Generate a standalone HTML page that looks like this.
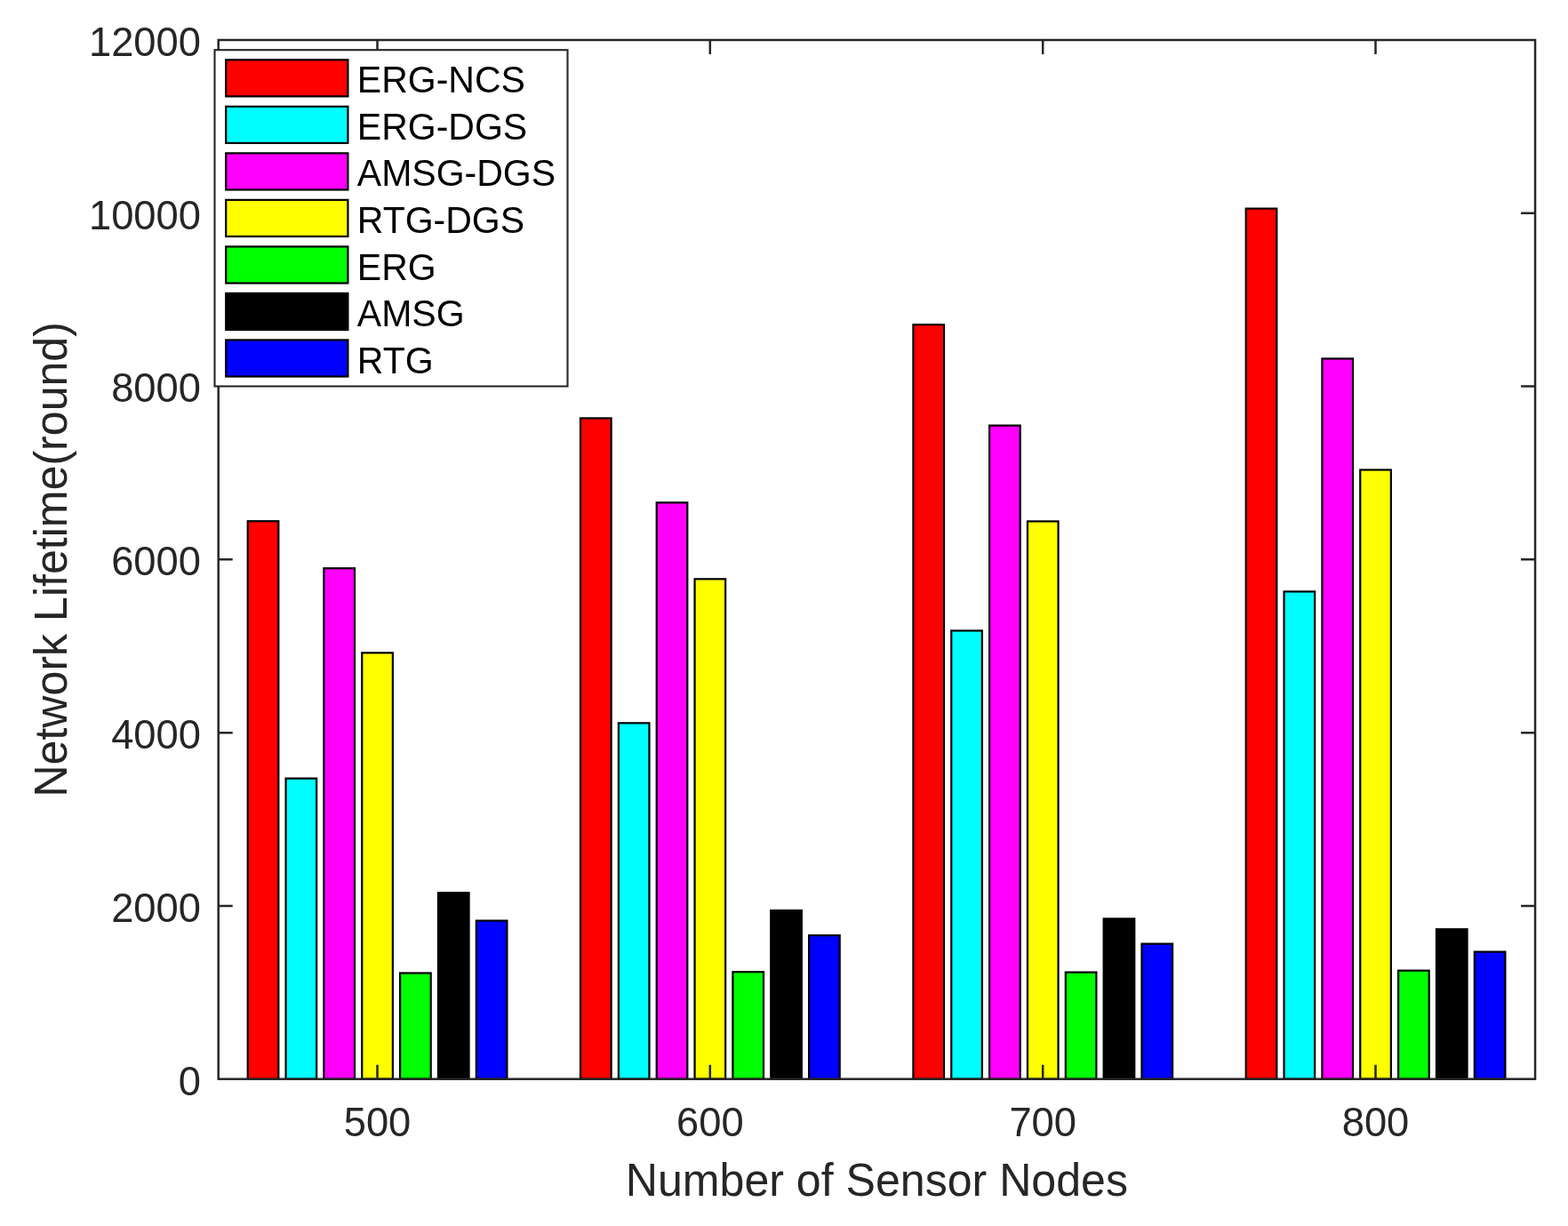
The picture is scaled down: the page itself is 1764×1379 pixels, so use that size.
<!DOCTYPE html>
<html lang="en">
<head>
<meta charset="utf-8">
<title>Network Lifetime vs Number of Sensor Nodes</title>
<style>
html,body{margin:0;padding:0;background:#fff;}
body{width:1764px;height:1379px;overflow:hidden;}
svg{display:block;}
text{font-family:"Liberation Sans",Arial,Helvetica,sans-serif;}
.tk{font-size:45.3px;fill:#262626;}
.lb{font-size:50.1px;fill:#262626;}
.lg{font-size:41px;fill:#000;}
.ax{stroke:#262626;stroke-width:2.5;fill:none;}
.bar{stroke:#000;stroke-width:2.2;}
</style>
</head>
<body>
<svg width="1764" height="1379" viewBox="0 0 1764 1379">
<rect x="0" y="0" width="1764" height="1379" fill="#ffffff"/>
<g class="bar">
<rect x="278.7" y="586.2" width="34.6" height="627.5" fill="#ff0000"/>
<rect x="321.55" y="875.6" width="34.6" height="338.1" fill="#00ffff"/>
<rect x="364.4" y="639.2" width="34.6" height="574.5" fill="#ff00ff"/>
<rect x="407.25" y="734.3" width="34.6" height="479.4" fill="#ffff00"/>
<rect x="450.1" y="1094.5" width="34.6" height="119.2" fill="#00ff00"/>
<rect x="492.95" y="1004.2" width="34.6" height="209.5" fill="#000000"/>
<rect x="535.8" y="1035.6" width="34.6" height="178.1" fill="#0000ff"/>
<rect x="653" y="470.4" width="34.6" height="743.3" fill="#ff0000"/>
<rect x="695.85" y="813.3" width="34.6" height="400.4" fill="#00ffff"/>
<rect x="738.7" y="565.3" width="34.6" height="648.4" fill="#ff00ff"/>
<rect x="781.55" y="651.3" width="34.6" height="562.4" fill="#ffff00"/>
<rect x="824.4" y="1093.2" width="34.6" height="120.5" fill="#00ff00"/>
<rect x="867.25" y="1024.1" width="34.6" height="189.6" fill="#000000"/>
<rect x="910.1" y="1052.1" width="34.6" height="161.6" fill="#0000ff"/>
<rect x="1027.4" y="365.2" width="34.6" height="848.5" fill="#ff0000"/>
<rect x="1070.25" y="709.4" width="34.6" height="504.3" fill="#00ffff"/>
<rect x="1113.1" y="478.6" width="34.6" height="735.1" fill="#ff00ff"/>
<rect x="1155.95" y="586.4" width="34.6" height="627.3" fill="#ffff00"/>
<rect x="1198.8" y="1093.6" width="34.6" height="120.1" fill="#00ff00"/>
<rect x="1241.65" y="1033.4" width="34.6" height="180.3" fill="#000000"/>
<rect x="1284.5" y="1061.6" width="34.6" height="152.1" fill="#0000ff"/>
<rect x="1401.7" y="234.6" width="34.6" height="979.1" fill="#ff0000"/>
<rect x="1444.55" y="665.4" width="34.6" height="548.3" fill="#00ffff"/>
<rect x="1487.4" y="403.4" width="34.6" height="810.3" fill="#ff00ff"/>
<rect x="1530.25" y="528.5" width="34.6" height="685.2" fill="#ffff00"/>
<rect x="1573.1" y="1091.7" width="34.6" height="122" fill="#00ff00"/>
<rect x="1615.95" y="1045.2" width="34.6" height="168.5" fill="#000000"/>
<rect x="1658.8" y="1070.6" width="34.6" height="143.1" fill="#0000ff"/>
</g>
<g class="ax">
<rect x="245.7" y="45" width="1481.35" height="1168.7"/>
<path d="M424.5 1213.7v-16M424.5 45v16M798.8 1213.7v-16M798.8 45v16M1173.2 1213.7v-16M1173.2 45v16M1547.5 1213.7v-16M1547.5 45v16M1727.05 239.78h-16M1727.05 434.57h-16M245.7 629.35h16M1727.05 629.35h-16M245.7 824.13h16M1727.05 824.13h-16M245.7 1018.92h16M1727.05 1018.92h-16"/>
</g>
<g class="tk">
<text transform="translate(225.9 62.9) scale(1 1.01)" text-anchor="end">12000</text>
<text transform="translate(225.9 257.68) scale(1 1.01)" text-anchor="end">10000</text>
<text transform="translate(225.9 452.47) scale(1 1.01)" text-anchor="end">8000</text>
<text transform="translate(225.9 647.25) scale(1 1.01)" text-anchor="end">6000</text>
<text transform="translate(225.9 842.03) scale(1 1.01)" text-anchor="end">4000</text>
<text transform="translate(225.9 1036.82) scale(1 1.01)" text-anchor="end">2000</text>
<text transform="translate(225.9 1231.6) scale(1 1.01)" text-anchor="end">0</text>
<text transform="translate(424.5 1278.2) scale(1 1.01)" text-anchor="middle">500</text>
<text transform="translate(798.8 1278.2) scale(1 1.01)" text-anchor="middle">600</text>
<text transform="translate(1173.2 1278.2) scale(1 1.01)" text-anchor="middle">700</text>
<text transform="translate(1547.5 1278.2) scale(1 1.01)" text-anchor="middle">800</text>
</g>
<text class="lb" transform="translate(986.4 1345.2) scale(1 1.02)" text-anchor="middle">Number of Sensor Nodes</text>
<text class="lb" transform="translate(75.3 629.35) rotate(-90) scale(1 1.02)" text-anchor="middle">Network Lifetime(round)</text>
<rect class="ax" style="fill:#fff;stroke-width:2.1" x="241.5" y="56.2" width="397" height="378.3"/>
<rect class="bar" x="254.2" y="67.3" width="137.2" height="41.1" fill="#ff0000"/>
<text class="lg" transform="translate(401.8 104.2) scale(1 1.02)">ERG-NCS</text>
<rect class="bar" x="254.2" y="119.82" width="137.2" height="41.1" fill="#00ffff"/>
<text class="lg" transform="translate(401.8 156.8) scale(1 1.02)">ERG-DGS</text>
<rect class="bar" x="254.2" y="172.34" width="137.2" height="41.1" fill="#ff00ff"/>
<text class="lg" transform="translate(401.8 209.4) scale(1 1.02)">AMSG-DGS</text>
<rect class="bar" x="254.2" y="224.86" width="137.2" height="41.1" fill="#ffff00"/>
<text class="lg" transform="translate(401.8 262) scale(1 1.02)">RTG-DGS</text>
<rect class="bar" x="254.2" y="277.38" width="137.2" height="41.1" fill="#00ff00"/>
<text class="lg" transform="translate(401.8 314.6) scale(1 1.02)">ERG</text>
<rect class="bar" x="254.2" y="329.9" width="137.2" height="41.1" fill="#000000"/>
<text class="lg" transform="translate(401.8 367.2) scale(1 1.02)">AMSG</text>
<rect class="bar" x="254.2" y="382.42" width="137.2" height="41.1" fill="#0000ff"/>
<text class="lg" transform="translate(401.8 419.8) scale(1 1.02)">RTG</text>
</svg>
</body>
</html>
